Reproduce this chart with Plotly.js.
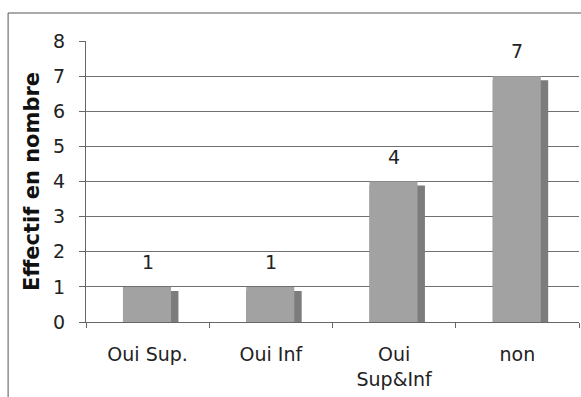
<!DOCTYPE html>
<html>
<head>
<meta charset="utf-8">
<script src="https://cdn.plot.ly/plotly-3.0.1.min.js"></script>
<style>html,body{margin:0;padding:0;background:#fff;}#chart{width:581px;height:397px;}</style>
</head>
<body>
<div id="chart"></div>
<script>
const categories = ["Oui Sup.", "Oui Inf", "Oui<br>Sup&Inf", "non"];
const values = [1, 1, 4, 7];
const yTicks = [0, 1, 2, 3, 4, 5, 6, 7, 8];

const font = "DejaVu Sans, Verdana, sans-serif";

// side (shadow) face: on primary y axis, range shifted so it sits a few px lower
const side = {
  type: "bar", x: categories, y: values, yaxis: "y",
  width: 0.45, offset: -0.2,
  marker: {color: "#7c7c7c", line: {width: 0}},
  hoverinfo: "skip"
};
// front face: on overlay axis y2 which carries ticks/grid/title
const front = {
  type: "bar", x: categories, y: values, yaxis: "y2",
  width: 0.39, offset: -0.2,
  marker: {color: "#a2a2a2", line: {width: 0}},
  hoverinfo: "skip"
};

const annotations = values.map((v, i) => ({
  x: categories[i], y: v, xref: "x", yref: "y2",
  text: String(v), showarrow: false, yshift: 25,
  font: {family: font, size: 19, color: "#222"}
}));

const layout = {
  width: 581, height: 397,
  margin: {l: 86, r: 2, t: 41, b: 75},
  paper_bgcolor: "#fff", plot_bgcolor: "#fff",
  showlegend: false, barmode: "overlay",
  xaxis: {
    type: "category", tickson: "boundaries", ticks: "outside", ticklen: 5,
    tickcolor: "#666", showline: true, linecolor: "#666", linewidth: 1,
    showgrid: false, zeroline: false,
    ticklabelstandoff: 15,
    tickfont: {family: font, size: 19, color: "#222"}
  },
  yaxis: {
    range: [0.115, 8.115], visible: false, showgrid: false, zeroline: false, fixedrange: true
  },
  yaxis2: {
    overlaying: "y", side: "left",
    range: [0, 8], tickvals: yTicks, ticks: "outside", ticklen: 6,
    tickcolor: "#666", showline: true, linecolor: "#666", linewidth: 1,
    showgrid: true, gridcolor: "#707070", gridwidth: 1, zeroline: false,
    ticklabelstandoff: 10,
    tickfont: {family: font, size: 19, color: "#222"},
    title: {text: "Effectif en nombre", standoff: 7,
            font: {family: font, size: 21, color: "#111", weight: "bold"}}
  },
  annotations: annotations,
  shapes: [{
    type: "rect", xref: "paper", yref: "paper",
    x0: -0.158, x1: 1.02, y0: -0.3, y1: 1.0996,
    line: {color: "#555", width: 1}, fillcolor: "rgba(0,0,0,0)", layer: "below"
  }]
};

Plotly.newPlot("chart", [side, front], layout, {displayModeBar: false, staticPlot: true});
</script>
</body>
</html>
